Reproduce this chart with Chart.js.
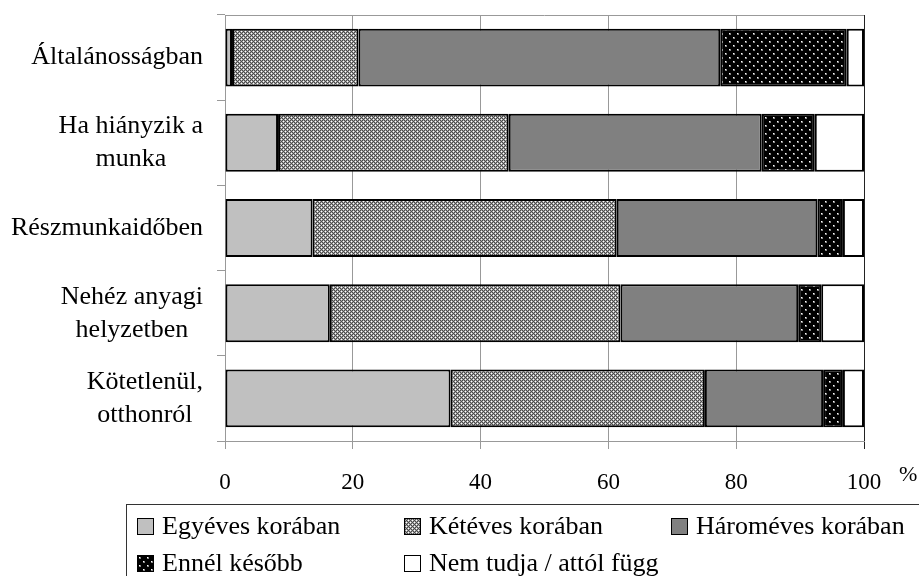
<!DOCTYPE html>
<html>
<head>
<meta charset="utf-8">
<script src="https://cdn.jsdelivr.net/npm/chart.js@4.4.1/dist/chart.umd.min.js"></script>
<style>
    html, body { margin: 0; padding: 0; background: #fff; }
    #wrap { position: relative; width: 919px; height: 576px; overflow: hidden; }
    #chart { position: absolute; left: 0; top: 0; }
    #legend {
        position: absolute; left: 126px; top: 504px; width: 830px; height: 110px;
        border: 1.5px solid #333; box-sizing: border-box;
        font-family: "Liberation Serif", "Times New Roman", Times, serif; font-size: 26px; color: #000;
    }
    .item { position: absolute; height: 32px; line-height: 32px; display: flex; align-items: center; white-space: nowrap; }
    .item canvas { border: 1px solid #000; margin-right: 8px; box-sizing: border-box; }
</style>
</head>
<body>
<div id="wrap">
    <canvas id="chart" width="919" height="576"></canvas>
    <div id="legend"></div>
</div>
<script>
// Chart data
const categories = [
    ['Általánosságban'],
    ['Ha hiányzik a', 'munka'],
    ['Részmunkaidőben'],
    ['Nehéz anyagi', 'helyzetben'],
    ['Kötetlenül,', 'otthonról']
];
const seriesNames = ['Egyéves korában', 'Kétéves korában', 'Hároméves korában', 'Ennél később', 'Nem tudja / attól függ'];
const egyeves   = [1.1, 8.3, 13.7, 16.4, 35.3];
const keteves   = [19.8, 36.1, 47.6, 45.5, 39.8];
const haromeves = [56.6, 39.6, 31.4, 27.8, 18.5];
const ennelKesobb = [19.8, 8.3, 4.0, 3.6, 3.1];
const nemTudja  = [2.7, 7.7, 3.3, 6.7, 3.3];
const xTicks = [0, 20, 40, 60, 80, 100];

const FONT = '"Liberation Serif", "Times New Roman", Times, serif';

// Fill patterns (like the old b/w office charts)
function makePattern(size, draw) {
    const c = document.createElement('canvas');
    c.width = size; c.height = size;
    const g = c.getContext('2d');
    draw(g);
    return c;
}
const checkTile = makePattern(4, function(g) {
    const rows = ['DLDL', 'LDLW', 'DLDL', 'LWLD'];
    const col = { D: '#4a4a4a', L: '#a4a4a4', W: '#ffffff' };
    rows.forEach((r, y) => r.split('').forEach((ch, x) => { g.fillStyle = col[ch]; g.fillRect(x, y, 1, 1); }));
});
const dotTile = makePattern(8, function(g) {
    g.fillStyle = '#000'; g.fillRect(0, 0, 8, 8);
    [[1, 1], [5, 5]].forEach(p => {
        g.fillStyle = '#888'; g.fillRect(p[0], p[1], 2, 2);
        g.fillStyle = '#fff'; g.fillRect(p[0], p[1], 1, 1);
    });
});

const ctx = document.getElementById('chart').getContext('2d');
const checkPat = ctx.createPattern(checkTile, 'repeat');
const dotPat = ctx.createPattern(dotTile, 'repeat');
const fills = ['#c0c0c0', checkPat, '#808080', dotPat, '#ffffff'];

Chart.defaults.font.family = FONT;
Chart.defaults.color = '#000';

const catLabels = {
    id: 'catLabels',
    afterDraw(chart) {
        const c = chart.ctx, y = chart.scales.y, area = chart.chartArea;
        c.save();
        // top frame line
        c.strokeStyle = '#999'; c.lineWidth = 1;
        c.beginPath(); c.moveTo(area.left, area.top + 0.5); c.lineTo(area.right, area.top + 0.5); c.stroke();
        // category labels: lines centred on each other, block right-aligned
        c.font = '26px ' + FONT;
        c.fillStyle = '#000'; c.textAlign = 'center'; c.textBaseline = 'middle';
        categories.forEach((lines, i) => {
            const cy = y.getPixelForValue(i);
            const w = Math.max(...lines.map(l => c.measureText(l).width));
            const cx = area.left - 22 - w / 2;
            lines.forEach((l, j) => c.fillText(l, cx, cy + (j - (lines.length - 1) / 2) * 33));
        });
        c.font = '22px ' + FONT; c.textAlign = 'left';
        c.fillText('%', area.right + 35, 475);
        c.restore();
    }
};

const datasets = [egyeves, keteves, haromeves, ennelKesobb, nemTudja].map((d, i) => ({
    label: seriesNames[i],
    data: d,
    backgroundColor: fills[i],
    borderColor: '#000',
    borderWidth: 2,
    borderSkipped: false,
    categoryPercentage: 1,
    barPercentage: 0.68
}));

new Chart(ctx, {
    type: 'bar',
    data: { labels: categories, datasets: datasets },
    options: {
        indexAxis: 'y',
        responsive: false,
        animation: false,
        layout: { padding: { top: 15, right: 55, left: 0, bottom: 0 } },
        plugins: { legend: { display: false }, tooltip: { enabled: false } },
        scales: {
            x: {
                stacked: true, min: 0, max: 100,
                afterBuildTicks: s => { s.ticks = xTicks.map(v => ({ value: v })); },
                afterFit: s => { s.height = 135; },
                grid: {
                    color: c => (c.tick && c.tick.value === 100) ? '#222' : '#999',
                    tickLength: 8, lineWidth: 1
                },
                border: { color: '#999' },
                ticks: { font: { size: 23 }, padding: 20, color: '#000' }
            },
            y: {
                stacked: true,
                afterFit: s => { s.width = 225; },
                grid: { drawOnChartArea: false, tickLength: 8, color: '#999', offset: true },
                border: { color: '#999' },
                ticks: { display: false }
            }
        }
    },
    plugins: [catLabels]
});

// HTML legend in a fixed 3-column grid
const legendEl = document.getElementById('legend');
const cols = [10, 277, 544], rows = [5, 42];
seriesNames.forEach((name, i) => {
    const item = document.createElement('div');
    item.className = 'item';
    item.style.left = cols[i % 3] + 'px';
    item.style.top = rows[Math.floor(i / 3)] + 'px';
    const sw = document.createElement('canvas');
    sw.width = 15; sw.height = 15;
    const g = sw.getContext('2d');
    const f = fills[i];
    g.fillStyle = (f === checkPat) ? g.createPattern(checkTile, 'repeat') : (f === dotPat) ? g.createPattern(dotTile, 'repeat') : f;
    g.fillRect(0, 0, 15, 15);
    item.appendChild(sw);
    item.appendChild(document.createTextNode(name));
    legendEl.appendChild(item);
});
</script>
</body>
</html>
